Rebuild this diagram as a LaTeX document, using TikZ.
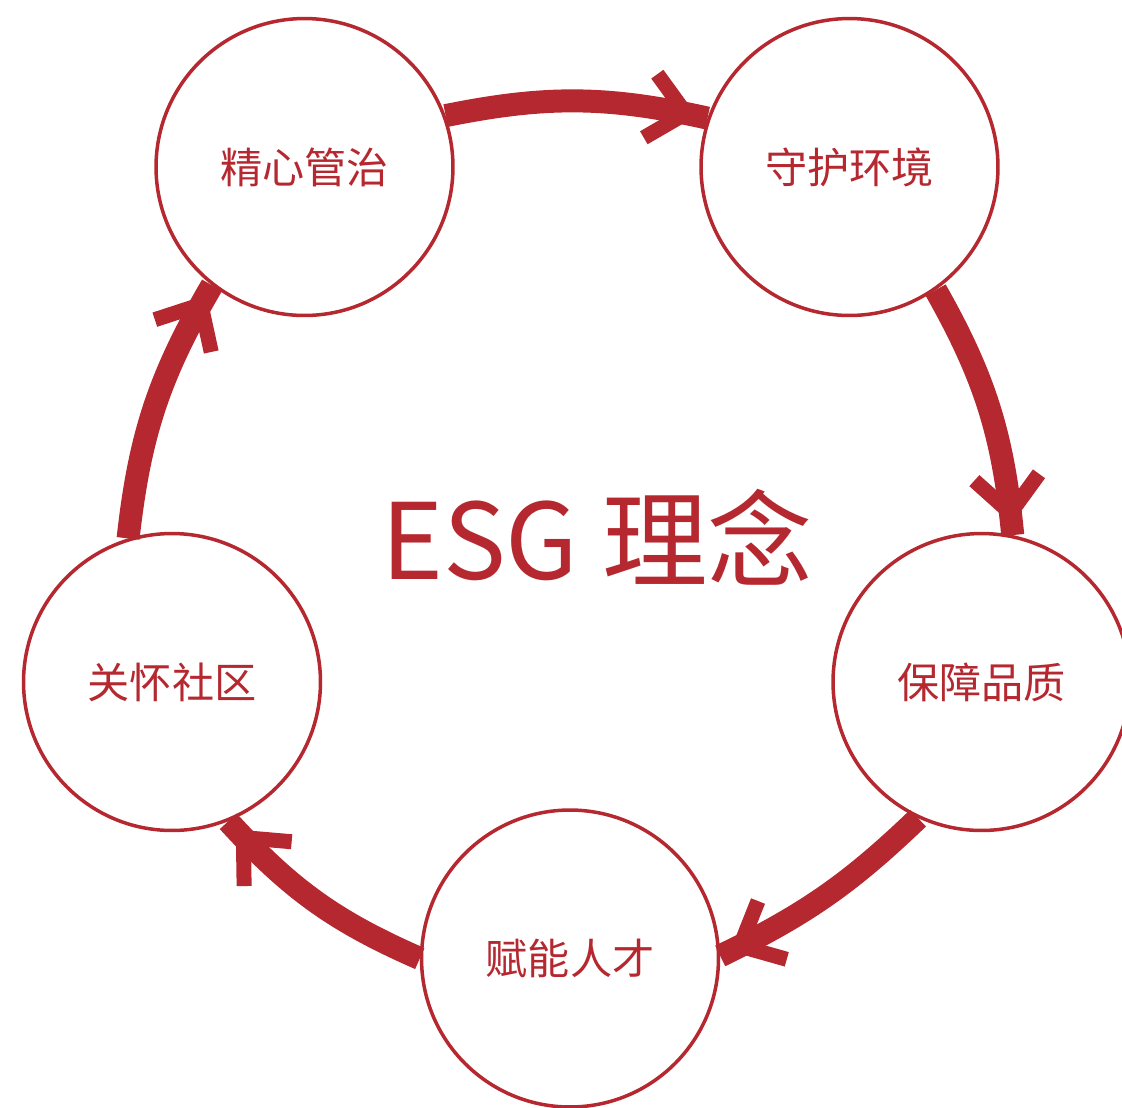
\documentclass[tikz,border=0pt]{standalone}
\usepackage{fontspec}
\setmainfont{Noto Sans CJK SC}
\usetikzlibrary{arrows.meta,decorations.markings}
\definecolor{esgred}{RGB}{181,40,48}

\begin{document}
\begin{tikzpicture}[x=0.02cm,y=-0.02cm,
  idea/.style={circle,draw=esgred,line width=0.07cm,minimum size=5.94cm,inner sep=0,
    text=esgred,font=\fontsize{24}{28}\selectfont},
  flow/.style={color=esgred,line width=0.46cm,postaction={decorate},
    decoration={markings,mark=at position -0.22cm with
      {\arrow{Straight Barb[length=0.72cm,width=1.3cm,line width=0.3cm]}}}}]
\useasboundingbox (0,0) rectangle (1122,1107);
\node[idea] (gov) at (304.5,167) {精心管治};
\node[idea] (env) at (849.5,167) {守护环境};
\node[idea] (qual) at (981.5,682) {保障品质};
\node[idea] (talent) at (570,958.5) {赋能人才};
\node[idea] (comm) at (172,682) {关怀社区};
\node[text=esgred,font=\fontsize{60}{66}\selectfont] (esg) at (597,537) {ESG 理念};
% cycle
\draw[flow] (gov.20) to[bend left=12] (env.161);
\draw[flow] (env.-55) to[bend left=12] (qual.78);
\draw[flow] (qual.-115) to[bend left=9] (talent.1);
\draw[flow] (talent.180) to[bend left=12] (comm.-68);
\draw[flow] (comm.107) to[bend left=12] (gov.-128);
\end{tikzpicture}
\end{document}
